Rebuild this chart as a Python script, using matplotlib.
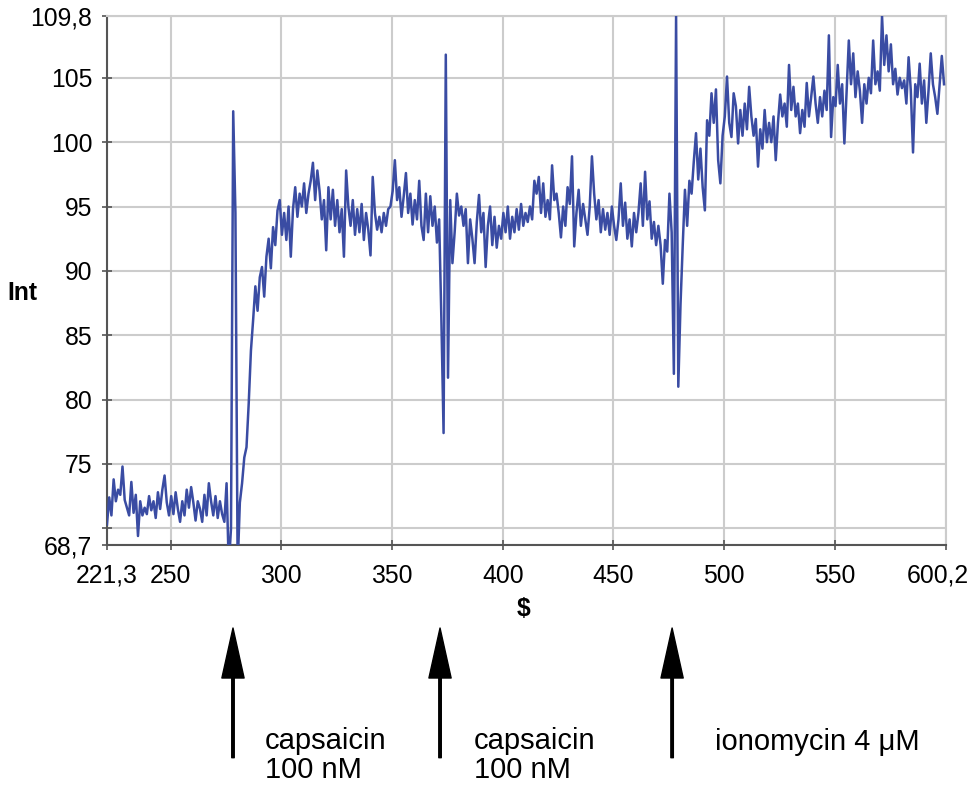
import numpy as np
import matplotlib
matplotlib.use("Agg")
import matplotlib.pyplot as plt
from matplotlib.transforms import ScaledTranslation

plt.rcParams['font.family'] = ['Liberation Sans', 'DejaVu Sans']

# fluorescence intensity, one reading per time step starting at t_start
t_start = 221.3
t_end = 600.2
intensity = [
    70.3, 72.4, 71.0, 73.8, 72.1, 73.0, 72.6, 74.8, 72.2, 71.6,
    71.0, 73.6, 71.2, 72.6, 69.4, 72.1, 71.0, 71.6, 71.1, 72.5,
    71.4, 72.1, 70.8, 72.8, 71.5, 73.0, 74.1, 72.0, 71.0, 72.5,
    71.1, 72.8, 71.5, 70.5, 72.1, 71.0, 73.0, 71.6, 73.2, 72.0,
    70.6, 72.1, 71.5, 70.5, 72.6, 71.0, 73.5, 72.1, 71.0, 72.5,
    70.8, 72.1, 71.1, 70.5, 73.5, 67.0, 70.0, 102.4, 94.5, 67.0,
    72.0, 73.5, 75.5, 76.3, 79.7, 83.8, 86.2, 88.8, 86.9, 89.5,
    90.3, 88.0, 91.1, 92.5, 90.2, 93.4, 92.0, 94.7, 95.5, 92.8,
    94.5, 92.4, 95.0, 91.1, 94.8, 96.5, 94.2, 96.0, 95.0, 96.8,
    94.5, 96.0, 97.0, 98.4, 95.5, 97.8, 96.2, 94.0, 95.5, 91.6,
    96.5, 94.0, 96.3, 93.5, 95.5, 93.0, 94.8, 91.1, 97.8, 95.0,
    93.5, 95.5, 92.8, 94.8, 93.0, 95.2, 92.4, 94.5, 93.2, 91.2,
    97.3, 94.5, 93.2, 94.2, 93.0, 94.5, 93.5, 94.8, 95.0, 96.2,
    98.6, 95.5, 96.5, 94.2, 95.8, 97.6, 94.5, 96.0, 93.6, 95.5,
    94.0, 97.0, 93.5, 92.4, 96.0, 93.0, 95.8, 93.5, 95.0, 92.2,
    94.0, 86.3, 77.4, 106.8, 81.7, 95.5, 90.6, 93.0, 96.0, 94.3,
    95.0, 93.5, 94.8, 90.6, 94.0, 92.5, 90.6, 93.8, 95.9, 93.0,
    94.5, 90.3, 93.5, 95.0, 92.0, 94.2, 91.8, 93.5, 92.5, 94.5,
    93.0, 95.0, 92.5, 94.2, 93.0, 94.8, 93.2, 95.2, 93.5, 94.5,
    93.8, 95.0, 94.0, 97.0, 96.0, 97.3, 94.5, 96.8, 94.2, 95.5,
    94.0, 98.2, 95.5, 96.0, 94.5, 92.6, 95.0, 93.5, 96.5, 95.2,
    98.9, 91.9, 94.5, 96.3, 93.5, 95.2, 94.0, 92.8, 95.0, 98.9,
    96.0, 94.0, 95.5, 93.0, 94.8, 93.2, 94.5, 92.8, 95.0, 93.5,
    92.4, 94.0, 96.8, 93.5, 95.3, 92.5, 94.0, 91.9, 94.5, 93.0,
    94.5, 96.8, 93.5, 97.7, 94.0, 95.4, 92.5, 93.8, 92.0, 93.5,
    92.0, 89.0, 92.4, 91.5, 96.0, 93.0, 82.0, 109.8, 81.0, 87.4,
    92.0, 96.3, 93.5, 97.0, 96.0, 98.5, 100.7, 97.1, 99.5, 96.5,
    94.7, 101.7, 100.5, 103.8, 101.5, 104.1, 98.6, 96.8, 100.5, 102.0,
    105.1, 101.5, 100.4, 103.8, 102.8, 99.9, 102.5, 100.5, 103.0, 101.0,
    104.3, 102.0, 100.5, 101.8, 98.1, 101.0, 99.5, 102.5, 100.0, 101.5,
    100.0, 102.0, 98.6, 101.5, 103.7, 102.0, 103.0, 101.2, 106.0, 102.5,
    104.3, 102.0, 103.0, 100.7, 102.5, 101.2, 104.6, 102.0, 103.5, 105.1,
    103.0, 101.5, 103.5, 102.0, 104.0, 102.5, 108.3, 100.4, 103.5, 102.8,
    106.0, 103.0, 104.5, 99.9, 104.0, 107.9, 104.5, 106.9, 103.5, 105.5,
    104.0, 101.5, 104.5, 103.0, 105.0, 103.8, 107.9, 104.5, 105.5, 104.0,
    109.8, 106.0, 108.3, 105.5, 107.6, 104.5, 105.7, 103.7, 105.0, 104.2,
    104.8, 103.0, 106.6, 104.0, 99.2, 104.5, 103.5, 106.1, 103.0, 104.8,
    101.5, 104.0, 106.9, 104.5, 103.5, 102.2, 104.5, 106.7, 104.5,
]
time = t_start + np.arange(len(intensity))

y_min, y_max = 68.7, 109.8
xticks = [221.3, 250, 300, 350, 400, 450, 500, 550, 600.2]
xticklabels = ['221,3', '250', '300', '350', '400', '450', '500', '550', '600,2']
yticks = [68.7, 70, 75, 80, 85, 90, 95, 100, 105, 109.8]
yticklabels = ['68,7', '', '75', '80', '85', '90', '95', '100', '105', '109,8']

# drug additions
stim_times = [278.2, 371.7, 476.5]
stim_labels = ['capsaicin\n100 nM', 'capsaicin\n100 nM', 'ionomycin 4 \u03bcM']

fig = plt.figure(figsize=(9.78, 7.86), dpi=100)
ax = fig.add_axes([0.1094, 0.3066, 0.8579, 0.673])

ax.plot(time, intensity, color='#3a4ca3', lw=1.8, zorder=3)

ax.set_xlim(t_start, t_end)
ax.set_ylim(y_min, y_max)
ax.set_xticks(xticks)
ax.set_xticklabels(xticklabels)
ax.set_yticks(yticks)
ax.set_yticklabels(yticklabels)
ax.tick_params(direction='inout', length=7, width=1.2, colors='#555555',
               labelcolor='black', labelsize=17.8)
ax.tick_params(axis='x', pad=10)
ax.tick_params(axis='y', pad=7)

# last x label sits a little inside the right edge
last = ax.get_xticklabels()[-1]
last.set_transform(last.get_transform() + ScaledTranslation(-8 / 100, 0, fig.dpi_scale_trans))

ax.grid(True, color='#cccccc', lw=1.5, zorder=0)
for side in ['top', 'right']:
    ax.spines[side].set_color('#cccccc')
    ax.spines[side].set_linewidth(1.5)
for side in ['left', 'bottom']:
    ax.spines[side].set_color('#555555')
    ax.spines[side].set_linewidth(1.5)

fig.text(0.023, 0.627, 'Int', fontsize=17.8, fontweight='bold', ha='center', va='center')
fig.text(0.535, 0.225, '$', fontsize=17.8, fontweight='bold', ha='center', va='center')

text_offsets = [0.0327, 0.0348, 0.0436]
for t, lab, off in zip(stim_times, stim_labels, text_offsets):
    ax.annotate('', xy=(t, 0.201), xytext=(t, 0.036),
                xycoords=('data', 'figure fraction'),
                textcoords=('data', 'figure fraction'),
                arrowprops=dict(facecolor='black', edgecolor='black', width=1.8,
                                headwidth=16, headlength=36, shrink=0),
                annotation_clip=False)
    x_fig = fig.transFigure.inverted().transform(ax.transData.transform((t, y_min)))[0]
    if '\n' in lab:
        fig.text(x_fig + off, 0.0755, lab, fontsize=21, ha='left', va='top', linespacing=1.05)
    else:
        fig.text(x_fig + off, 0.056, lab, fontsize=21, ha='left', va='center')

fig.savefig('out.png', dpi=100)
